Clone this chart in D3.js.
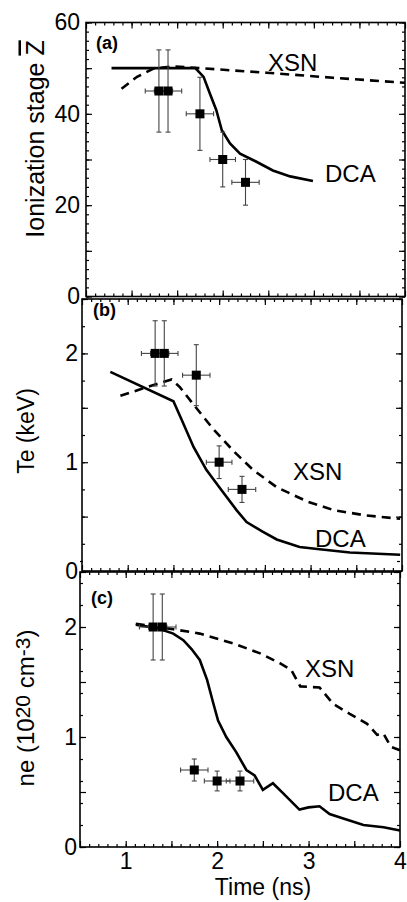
<!DOCTYPE html>
<html><head><meta charset="utf-8">
<script src="https://cdn.jsdelivr.net/npm/d3@7/dist/d3.min.js"></script>
<style>
body{margin:0;background:#fff}
svg{display:block}
text{font-family:"Liberation Sans",Arial,Helvetica,sans-serif;fill:#000}
</style>
</head><body>
<svg id="chart" width="407" height="902"></svg>
<script>
// ---------------- DATA ----------------
const xTickLabels = [1, 2, 3, 4];
const zTickLabels = [0, 20, 40, 60];
const teTickLabels = [0, 1, 2];
const neTickLabels = [0, 1, 2];

// experimental points
const expTime    = [1.3, 1.4, 1.75, 2.0, 2.25];
const expTimeErr = [0.15, 0.15, 0.15, 0.14, 0.15];
const expZ       = [45, 45, 40, 30, 25];
const expZErr    = [9, 9, 8, 6, 5];
const expTe      = [2.0, 2.0, 1.8, 1.0, 0.75];
const expTeErr   = [0.3, 0.3, 0.28, 0.15, 0.12];
const expNe      = [2.0, 2.0, 0.7, 0.6, 0.6];
const expNeErr   = [0.3, 0.3, 0.1, 0.09, 0.09];

// simulation curves [time, value]
const dcaZ = [[0.78,50],[1.0,50],[1.3,50],[1.5,50],[1.70,50],[1.79,48.1],[1.86,44.4],[1.93,40.8],[1.99,36.4],
  [2.08,33.5],[2.19,31.3],[2.37,29.5],[2.55,27.6],[2.74,26.3],[2.99,25.3]];
const xsnZ = [[0.89,45.5],[1.06,48.1],[1.24,49.9],[1.46,50.4],[1.68,50.1],[2.48,49.0],[3.21,47.9],[4.0,46.8]];

const dcaTe = [[0.81,1.83],[1.5,1.56],[1.59,1.39],[1.72,1.14],[1.86,0.93],[2.01,0.76],[2.19,0.56],[2.30,0.45],
  [2.48,0.36],[2.63,0.29],[2.88,0.22],[3.10,0.20],[3.43,0.17],[3.98,0.15]];
const xsnTe = [[0.92,1.61],[1.21,1.69],[1.48,1.76],[1.57,1.69],[1.72,1.53],[1.94,1.30],[2.16,1.10],[2.37,0.93],
  [2.63,0.77],[2.96,0.64],[3.25,0.56],[3.61,0.51],[3.98,0.48]];

const dcaNe = [[1.11,2.02],[1.34,1.99],[1.52,1.94],[1.63,1.88],[1.72,1.80],[1.81,1.70],[1.89,1.52],[1.96,1.30],
  [2.01,1.15],[2.10,1.0],[2.21,0.86],[2.32,0.70],[2.41,0.65],[2.50,0.52],[2.61,0.58],[2.72,0.49],[2.90,0.34],
  [3.0,0.36],[3.12,0.37],[3.23,0.30],[3.38,0.26],[3.60,0.20],[3.82,0.18],[4.0,0.15]];
const xsnNe = [[1.11,2.03],[1.34,2.0],[1.52,1.98],[1.81,1.94],[2.18,1.85],[2.47,1.76],[2.69,1.67],[2.81,1.61],
  [2.91,1.46],[3.12,1.45],[3.27,1.30],[3.45,1.21],[3.64,1.12],[3.75,1.02],[3.82,1.03],[3.90,0.91],[4.0,0.88]];

// ---------------- LAYOUT ----------------
const xDomain = [0.5, 4];
const panels = [
  {id:"(a)", left:86, right:405, top:22.5, bottom:296.5, yDom:[0,60], yLabels:zTickLabels, yMajor:10, yMinor:2,
   labelPad:6, exp:expZ, expErr:expZErr, dca:dcaZ, xsn:xsnZ,
   tagPos:[96,49], xsnPos:[268,71], dcaPos:[325,182]},
  {id:"(b)", left:82, right:402, top:299, bottom:571, yDom:[0,2.5], yLabels:teTickLabels, yMajor:0.5, yMinor:0.25,
   labelPad:4, exp:expTe, expErr:expTeErr, dca:dcaTe, xsn:xsnTe,
   tagPos:[93,316], xsnPos:[293,480], dcaPos:[315,547]},
  {id:"(c)", left:80, right:400, top:572, bottom:847, yDom:[0,2.5], yLabels:neTickLabels, yMajor:0.5, yMinor:0.2,
   labelPad:3, exp:expNe, expErr:expNeErr, dca:dcaNe, xsn:xsnNe,
   tagPos:[91,604], xsnPos:[305,677], dcaPos:[328,801]}
];

const svg = d3.select("#chart");
const rng = (a, b, s) => d3.range(Math.round(a / s), Math.round(b / s) + 1).map(i => +(i * s).toFixed(4));

panels.forEach((p, i) => {
  const x = d3.scaleLinear().domain(xDomain).range([p.left, p.right]);
  const y = d3.scaleLinear().domain(p.yDom).range([p.bottom, p.top]);
  const g = svg.append("g");

  const xMinor = rng(0.6, 3.9, 0.1);
  const xMajor = rng(0.5, 4, 0.5);
  const yMinor = rng(p.yDom[0], p.yDom[1], p.yMinor);
  const yMajor = rng(p.yDom[0], p.yDom[1], p.yMajor);

  function drawAxis(axis, tr) {
    const a = g.append("g").attr("transform", tr).call(axis);
    a.select(".domain").remove();
    a.selectAll(".tick line").attr("stroke", "#000").attr("stroke-width", 1.2);
    return a;
  }
  // bottom
  drawAxis(d3.axisBottom(x).tickValues(xMinor).tickSize(-3).tickFormat(""), `translate(0,${p.bottom})`);
  const bx = drawAxis(d3.axisBottom(x).tickValues(xMajor).tickSize(-6).tickPadding(6)
     .tickFormat(d => (i === 2 && xTickLabels.includes(d)) ? d : ""), `translate(0,${p.bottom})`);
  bx.selectAll("text").attr("font-size", 23).style("font-family", '"Liberation Sans",Arial,sans-serif');
  // top
  drawAxis(d3.axisTop(x).tickValues(xMinor).tickSize(-3).tickFormat(""), `translate(0,${p.top})`);
  drawAxis(d3.axisTop(x).tickValues(xMajor).tickSize(-6).tickFormat(""), `translate(0,${p.top})`);
  // left
  drawAxis(d3.axisLeft(y).tickValues(yMinor).tickSize(-3).tickFormat(""), `translate(${p.left},0)`);
  const ly = drawAxis(d3.axisLeft(y).tickValues(yMajor).tickSize(-6).tickPadding(p.labelPad)
     .tickFormat(d => p.yLabels.includes(d) ? d : ""), `translate(${p.left},0)`);
  ly.selectAll("text").attr("font-size", 23).style("font-family", '"Liberation Sans",Arial,sans-serif');
  // right
  drawAxis(d3.axisRight(y).tickValues(yMinor).tickSize(-3).tickFormat(""), `translate(${p.right},0)`);
  drawAxis(d3.axisRight(y).tickValues(yMajor).tickSize(-6).tickFormat(""), `translate(${p.right},0)`);

  // frame
  g.append("rect").attr("x", p.left).attr("y", p.top)
    .attr("width", p.right - p.left).attr("height", p.bottom - p.top)
    .attr("fill", "none").attr("stroke", "#000").attr("stroke-width", 1.6);

  const line = d3.line().x(d => x(d[0])).y(d => y(d[1]));
  g.append("path").datum(p.xsn).attr("d", line).attr("fill", "none")
    .attr("stroke", "#000").attr("stroke-width", 2.6).attr("stroke-dasharray", "9,6");
  g.append("path").datum(p.dca).attr("d", line).attr("fill", "none")
    .attr("stroke", "#000").attr("stroke-width", 2.6);

  // experimental points with error bars
  const pts = expTime.map((t, k) => ({t, te: expTimeErr[k], v: p.exp[k], ve: p.expErr[k]}));
  const eg = g.append("g").attr("stroke", "#444").attr("stroke-width", 1.1);
  pts.forEach(d => {
    const cx = x(d.t), cy = y(d.v);
    const y1 = y(d.v + d.ve), y2 = y(d.v - d.ve);
    const x1 = x(d.t - d.te), x2 = x(d.t + d.te);
    eg.append("line").attr("x1", cx).attr("x2", cx).attr("y1", y1).attr("y2", y2);
    eg.append("line").attr("x1", cx - 2.5).attr("x2", cx + 2.5).attr("y1", y1).attr("y2", y1);
    eg.append("line").attr("x1", cx - 2.5).attr("x2", cx + 2.5).attr("y1", y2).attr("y2", y2);
    eg.append("line").attr("x1", x1).attr("x2", x2).attr("y1", cy).attr("y2", cy);
    eg.append("line").attr("x1", x1).attr("x2", x1).attr("y1", cy - 2.5).attr("y2", cy + 2.5);
    eg.append("line").attr("x1", x2).attr("x2", x2).attr("y1", cy - 2.5).attr("y2", cy + 2.5);
  });
  g.append("g").selectAll("rect").data(pts).join("rect")
    .attr("x", d => x(d.t) - 4.5).attr("y", d => y(d.v) - 4.5)
    .attr("width", 9).attr("height", 9).attr("fill", "#000");

  // labels
  g.append("text").attr("x", p.tagPos[0]).attr("y", p.tagPos[1])
    .attr("font-size", 18).attr("font-weight", "bold").text(p.id);
  g.append("text").attr("x", p.xsnPos[0]).attr("y", p.xsnPos[1]).attr("font-size", 24).text("XSN");
  g.append("text").attr("x", p.dcaPos[0]).attr("y", p.dcaPos[1]).attr("font-size", 24).text("DCA");
});

// y-axis titles
const ta = svg.append("text").attr("transform", "translate(43.5,139) rotate(-90)")
  .attr("text-anchor", "middle").attr("font-size", 25);
ta.append("tspan").text("Ionization stage ");
ta.append("tspan").attr("text-decoration", "overline").style("text-decoration", "overline").text("Z");

svg.append("text").attr("transform", "translate(33.5,431) rotate(-90)")
  .attr("text-anchor", "middle").attr("font-size", 23).text("Te (keV)");

const tc = svg.append("text").attr("transform", "translate(33.5,708) rotate(-90)")
  .attr("text-anchor", "middle").attr("font-size", 24);
tc.append("tspan").text("ne (10");
tc.append("tspan").attr("font-size", 21).attr("dy", -4).text("20");
tc.append("tspan").attr("dy", 4).text(" cm");
tc.append("tspan").attr("font-size", 21).attr("dy", -4).text("-3");
tc.append("tspan").attr("dy", 4).text(")");

svg.append("text").attr("x", 263).attr("y", 895).attr("text-anchor", "middle")
  .attr("font-size", 23).text("Time (ns)");
</script>
</body></html>
